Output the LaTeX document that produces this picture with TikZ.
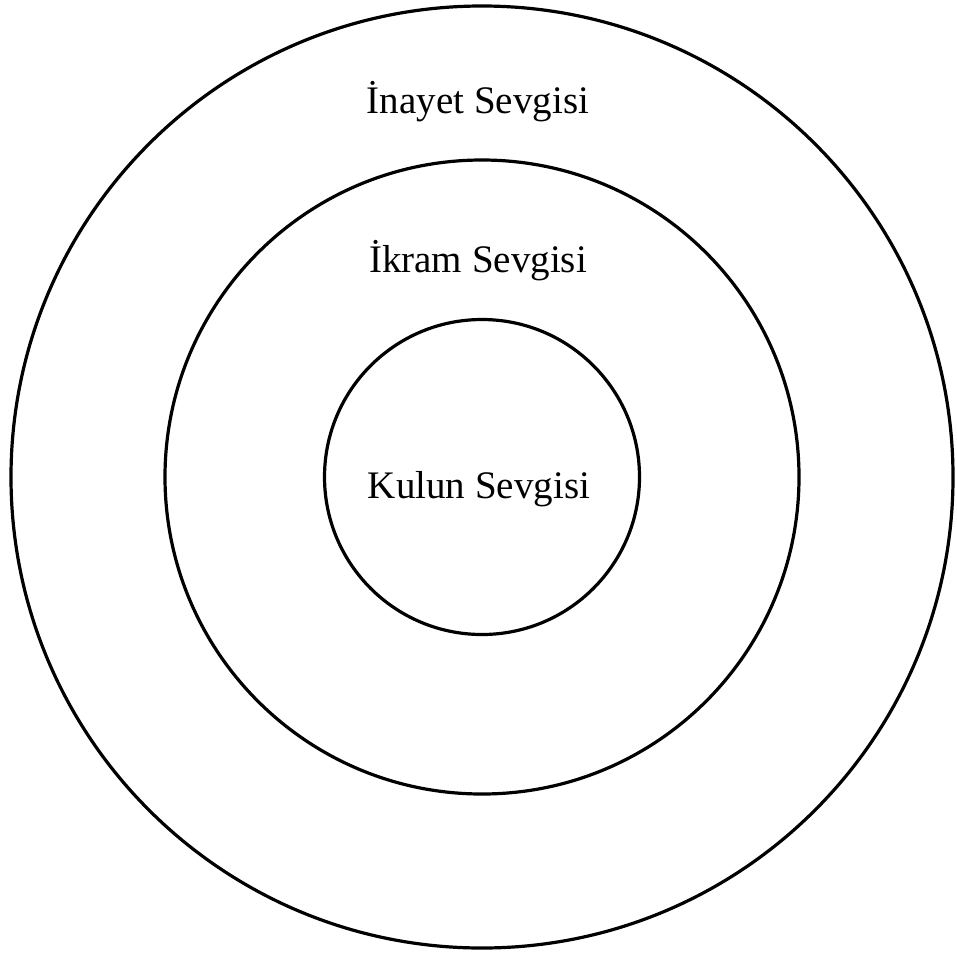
\documentclass[tikz,border=0pt]{standalone}
\usepackage{fontspec}
\setmainfont{Liberation Serif}
\begin{document}
\begin{tikzpicture}[x=1pt,y=-1pt,
  ring/.style={draw=black, line width=3.2pt, circle, inner sep=0pt},
  lbl/.style={font=\fontsize{39}{44}\selectfont, inner sep=0pt, anchor=base}]
\useasboundingbox (0,0) rectangle (957,954);
\coordinate (c) at (482,477);
\node[ring, minimum size=942pt] (outer) at (c) {};
\node[ring, minimum size=634pt] (middle) at (c) {};
\node[ring, minimum size=315pt] (inner) at (c) {};
\node[lbl] (inayet) at (478,113) {İnayet Sevgisi};
\node[lbl] (ikram) at (478,272) {İkram Sevgisi};
\node[lbl] (kulun) at (479,498) {Kulun Sevgisi};
\end{tikzpicture}
\end{document}
